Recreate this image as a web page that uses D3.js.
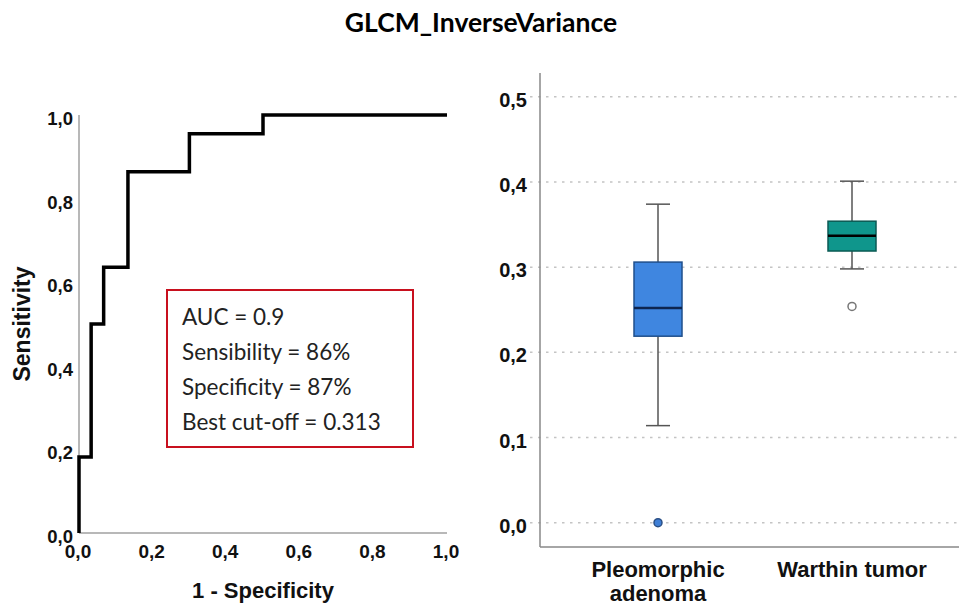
<!DOCTYPE html>
<html>
<head>
<meta charset="utf-8">
<script src="https://cdn.jsdelivr.net/npm/d3@7"></script>
<style>
  body { margin: 0; background: #fff; }
  svg { display: block; }
  .tick-lbl { font-family: "Liberation Sans", Arial, sans-serif; font-weight: bold; fill: #111; }
</style>
</head>
<body>
<div id="chart"></div>
<script>
// ROC curve corners (1 - specificity, sensitivity)
var rocFpr = [0, 0, 0.033, 0.033, 0.067, 0.067, 0.133, 0.133, 0.3, 0.3, 0.5, 0.5, 1.0];
var rocTpr = [0, 0.182, 0.182, 0.5, 0.5, 0.636, 0.636, 0.864, 0.864, 0.955, 0.955, 1.0, 1.0];
var rocTicks = [0, 0.2, 0.4, 0.6, 0.8, 1.0];
var statsLines = ["AUC = 0.9", "Sensibility = 86%", "Specificity = 87%", "Best cut-off = 0.313"];

// box plot summary
var categories = ["Pleomorphic adenoma", "Warthin tumor"];
var catLines = [["Pleomorphic", "adenoma"], ["Warthin tumor"]];
var whiskerLow = [0.114, 0.298];
var q1 = [0.219, 0.319];
var median = [0.252, 0.337];
var q3 = [0.306, 0.354];
var whiskerHigh = [0.374, 0.401];
var outliers = [[0.0], [0.254]];
var boxTicks = [0, 0.1, 0.2, 0.3, 0.4, 0.5];

var fmt = function(d) { return d3.format(".1f")(d).replace(".", ","); };

var W = 959, H = 607;
var svg = d3.select("#chart").append("svg")
  .attr("width", W).attr("height", H);

svg.append("text")
  .attr("x", 481).attr("y", 32)
  .attr("text-anchor", "middle")
  .style("font-family", "Lato, sans-serif")
  .style("font-weight", "bold")
  .style("font-size", "26.5px")
  .text("GLCM_InverseVariance");

// ---------- left: ROC ----------
var x = d3.scaleLinear().domain([0, 1]).range([79, 447]);
var y = d3.scaleLinear().domain([0, 1]).range([533, 115]);

var roc = svg.append("g");
roc.append("line")
  .attr("x1", x(0)).attr("x2", x(1)).attr("y1", y(0)).attr("y2", y(0))
  .attr("stroke", "#a0a0a0").attr("stroke-width", 1.5);
roc.append("line")
  .attr("x1", x(0)).attr("x2", x(0)).attr("y1", y(0)).attr("y2", y(1))
  .attr("stroke", "#a0a0a0").attr("stroke-width", 1.5);

roc.selectAll(".ylbl").data(rocTicks).enter().append("text")
  .attr("class", "tick-lbl")
  .attr("x", 73).attr("y", function(d) { return y(d) + 10; })
  .attr("text-anchor", "end")
  .style("font-size", "18.5px")
  .text(fmt);

roc.selectAll(".xlbl").data(rocTicks).enter().append("text")
  .attr("class", "tick-lbl")
  .attr("x", function(d) { return x(d) - 1; }).attr("y", 558)
  .attr("text-anchor", "middle")
  .style("font-size", "19px")
  .text(fmt);

var rocPts = rocFpr.map(function(d, i) { return [d, rocTpr[i]]; });
roc.append("path")
  .datum(rocPts)
  .attr("fill", "none")
  .attr("stroke", "#000")
  .attr("stroke-width", 3.5)
  .attr("stroke-linejoin", "miter")
  .attr("d", d3.line().x(function(d) { return x(d[0]); }).y(function(d) { return y(d[1]); }));

roc.append("text")
  .attr("class", "tick-lbl")
  .attr("transform", "translate(30," + ((y(0) + y(1)) / 2) + ") rotate(-90)")
  .attr("text-anchor", "middle")
  .style("font-size", "23px")
  .text("Sensitivity");

roc.append("text")
  .attr("class", "tick-lbl")
  .attr("x", 263).attr("y", 598)
  .attr("text-anchor", "middle")
  .style("font-size", "22px")
  .text("1 - Specificity");

// stats box
roc.append("rect")
  .attr("x", 167).attr("y", 290).attr("width", 246).attr("height", 157)
  .attr("fill", "#fff").attr("stroke", "#c8101e").attr("stroke-width", 2);
roc.selectAll(".stat").data(statsLines).enter().append("text")
  .attr("x", 182).attr("y", function(d, i) { return 325 + i * 35; })
  .style("font-family", "Lato, sans-serif")
  .style("font-size", "22.5px")
  .style("fill", "#222")
  .text(function(d) { return d; });

// ---------- right: box plot ----------
var by = d3.scaleLinear().domain([-0.0285, 0.528]).range([547, 73]);
var bx = d3.scalePoint().domain(categories).range([658, 852]);
var boxW = 48;
var fills = ["#3f86e0", "#0f968c"];
var strokes = ["#1f4f8c", "#0b5a54"];
var medStroke = ["#0d2550", "#000"];

var bp = svg.append("g");

bp.selectAll(".grid").data(boxTicks).enter().append("line")
  .attr("x1", 530).attr("x2", W)
  .attr("y1", function(d) { return by(d); }).attr("y2", function(d) { return by(d); })
  .attr("stroke", "#c4c4c4").attr("stroke-width", 1.5)
  .attr("stroke-dasharray", "2.5,5.5");

bp.append("line")
  .attr("x1", 540).attr("x2", 540).attr("y1", 73).attr("y2", 547)
  .attr("stroke", "#888").attr("stroke-width", 1.5);
bp.append("line")
  .attr("x1", 540).attr("x2", W).attr("y1", 547).attr("y2", 547)
  .attr("stroke", "#888").attr("stroke-width", 1.5);

bp.selectAll(".ylbl").data(boxTicks).enter().append("text")
  .attr("class", "tick-lbl")
  .attr("x", 527).attr("y", function(d) { return by(d) + 10; })
  .attr("text-anchor", "end")
  .style("font-size", "20px")
  .text(fmt);

categories.forEach(function(c, i) {
  var cx = bx(c);
  var g = bp.append("g");
  // whiskers
  g.append("line").attr("x1", cx).attr("x2", cx)
    .attr("y1", by(whiskerHigh[i])).attr("y2", by(q3[i]))
    .attr("stroke", "#555").attr("stroke-width", 1.5);
  g.append("line").attr("x1", cx).attr("x2", cx)
    .attr("y1", by(q1[i])).attr("y2", by(whiskerLow[i]))
    .attr("stroke", "#555").attr("stroke-width", 1.5);
  [whiskerHigh[i], whiskerLow[i]].forEach(function(v) {
    g.append("line").attr("x1", cx - boxW / 4).attr("x2", cx + boxW / 4)
      .attr("y1", by(v)).attr("y2", by(v))
      .attr("stroke", "#555").attr("stroke-width", 1.5);
  });
  g.append("rect")
    .attr("x", cx - boxW / 2).attr("width", boxW)
    .attr("y", by(q3[i])).attr("height", by(q1[i]) - by(q3[i]))
    .attr("fill", fills[i]).attr("stroke", strokes[i]).attr("stroke-width", 1.5);
  g.append("line").attr("x1", cx - boxW / 2).attr("x2", cx + boxW / 2)
    .attr("y1", by(median[i])).attr("y2", by(median[i]))
    .attr("stroke", medStroke[i]).attr("stroke-width", 2.5);
  outliers[i].forEach(function(v) {
    g.append("circle").attr("cx", cx).attr("cy", by(v)).attr("r", 4)
      .attr("fill", i === 0 ? "#3f7fd6" : "#fff")
      .attr("stroke", i === 0 ? "#2a4f85" : "#777")
      .attr("stroke-width", 1.5);
  });
  catLines[i].forEach(function(t, j) {
    g.append("text")
      .attr("class", "tick-lbl")
      .attr("x", cx).attr("y", 577 + j * 24)
      .attr("text-anchor", "middle")
      .style("font-size", "22px")
      .text(t);
  });
});
</script>
</body>
</html>
